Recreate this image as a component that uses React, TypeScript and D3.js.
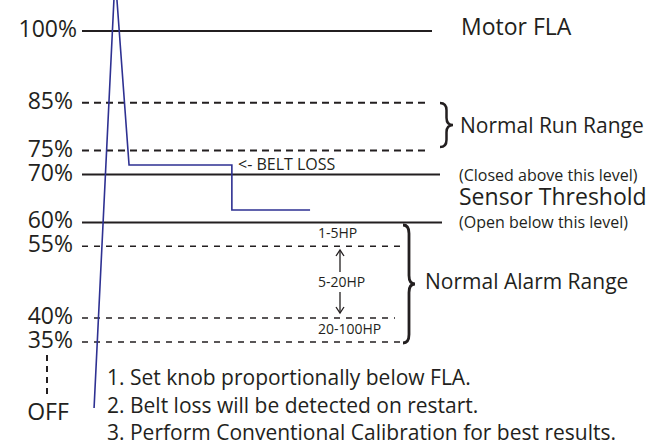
import React from 'react';
import { scaleLinear, line } from 'd3';

// threshold levels (% of motor FLA)
const levels = [100, 85, 75, 70, 60, 55, 40, 35];
const levelLabels = ['100%', '85%', '75%', '70%', '60%', '55%', '40%', '35%'];
const levelDashed = [false, true, true, false, false, true, true, true];

// current trace: time (arbitrary units) vs % FLA
const traceTime = [3.1, 9.0, 12.9, 41.7, 41.7, 63.6];
const tracePct = [21.2, 111.7, 72.0, 72.0, 62.6, 62.6];

const offLevel = 21.2;

const hpLabels = ['1-5HP', '5-20HP', '20-100HP'];
const notes = [
  '1. Set knob proportionally below FLA.',
  '2. Belt loss will be detected on restart.',
  '3. Perform Conventional Calibration for best results.',
];

const W = 661;
const H = 445;
const ink = '#231f20';
const blue = '#2e3192';
const font = "'Open Sans', sans-serif";

// where each level line stops on the right
const lineEnds = [432, 427, 427, 440, 442, 402, 395, 400];

function brace(x0: number, y1: number, y2: number, w: number) {
  const xm = x0 + w * 0.5;
  const x1 = x0 + w;
  const ym = (y1 + y2) / 2;
  const r = Math.min(w * 0.7, (y2 - y1) / 6);
  return `M${x0},${y1} Q${xm},${y1} ${xm},${y1 + r} L${xm},${ym - r} Q${xm},${ym} ${x1},${ym} Q${xm},${ym} ${xm},${ym + r} L${xm},${y2 - r} Q${xm},${y2} ${x0},${y2}`;
}

export default function App() {
  const x = scaleLinear().domain([0, 100]).range([83, 440]);
  const y = scaleLinear().domain([35, 100]).range([342, 31]);

  const tracePath = line<number>()
    .x((d, i) => x(traceTime[i]))
    .y((d) => y(d))(tracePct);

  return (
    <svg width={W} height={H} style={{ position: 'absolute', left: 0, top: 0, background: '#fff' }} fontFamily={font}>
      {levels.map((lv, i) => (
        <g key={lv}>
          <line
            x1={82}
            x2={lineEnds[i]}
            y1={y(lv)}
            y2={y(lv)}
            stroke={ink}
            strokeWidth={levelDashed[i] && lv < 60 ? 1.5 : 2}
            strokeDasharray={levelDashed[i] ? (lv < 60 ? '6,6' : '7,5') : undefined}
          />
          <text x={lv === 100 ? 77 : 73} y={y(lv) + 6} textAnchor="end" fontSize={23} fill={ink}>
            {levelLabels[i]}
          </text>
        </g>
      ))}

      {/* drop to OFF */}
      <line x1={47} x2={47} y1={355} y2={397} stroke={ink} strokeWidth={2} strokeDasharray="6,5" />
      <text x={48} y={y(offLevel) + 12} textAnchor="middle" fontSize={23} fill={ink}>OFF</text>

      <path d={tracePath || ''} fill="none" stroke={blue} strokeWidth={1.6} />

      <text x={238} y={170} fontSize={16} fill={ink}>{'<- BELT LOSS'}</text>

      {/* HP range markers */}
      <text x={318} y={238} fontSize={14} fill={ink}>{hpLabels[0]}</text>
      <text x={318} y={287} fontSize={14} fill={ink}>{hpLabels[1]}</text>
      <text x={318} y={334} fontSize={14} fill={ink}>{hpLabels[2]}</text>
      <g stroke={ink} strokeWidth={1.3} fill="none">
        <line x1={340} x2={340} y1={251} y2={272} />
        <path d="M336,256 L340,250 L344,256" />
        <line x1={340} x2={340} y1={292} y2={313} />
        <path d="M336,307 L340,313 L344,307" />
      </g>

      {/* right side annotations */}
      <text x={461} y={35} fontSize={23} fill={ink}>Motor FLA</text>
      <path d={brace(440, 103, 147, 13)} fill="none" stroke={ink} strokeWidth={2.5} />
      <text x={460} y={133} fontSize={21} fill={ink}>Normal Run Range</text>
      <text x={459} y={181} fontSize={16} fill={ink}>(Closed above this level)</text>
      <text x={459} y={205} fontSize={23} fill={ink}>Sensor Threshold</text>
      <text x={459} y={228} fontSize={16} fill={ink}>(Open below this level)</text>
      <path d={brace(403, 225, 343, 12)} fill="none" stroke={ink} strokeWidth={2.8} />
      <text x={425} y={289} fontSize={21} fill={ink}>Normal Alarm Range</text>

      {notes.map((n, i) => (
        <text key={i} x={107} y={385 + i * 27.5} fontSize={21} fill={ink}>{n}</text>
      ))}
    </svg>
  );
}
